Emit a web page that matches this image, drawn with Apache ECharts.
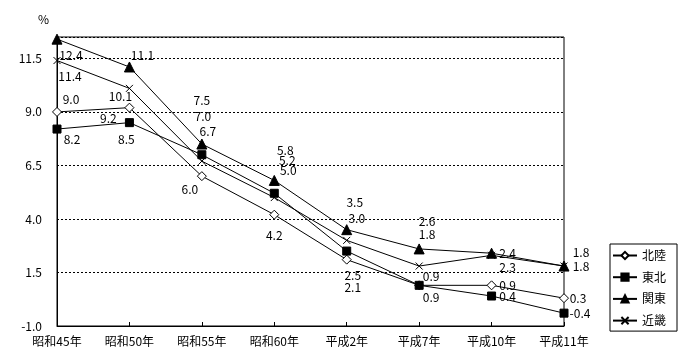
<!DOCTYPE html>
<html><head><meta charset="utf-8">
<script src="https://cdn.jsdelivr.net/npm/echarts@6/dist/echarts.min.js"></script>
<style>html,body{margin:0;padding:0;background:#fff}#c{width:700px;height:360px}</style>
</head><body><div id="c"></div>
<script>
var categories = ['昭和45年','昭和50年','昭和55年','昭和60年','平成2年','平成7年','平成10年','平成11年'];
var seriesNames = ['北陸','東北','関東','近畿'];
var hokuriku = [9.0, 9.2, 6.0, 4.2, 2.1, 0.9, 0.9, 0.3];
var tohoku   = [8.2, 8.5, 7.0, 5.2, 2.5, 0.9, 0.4, -0.4];
var kanto    = [12.4, 11.1, 7.5, 5.8, 3.5, 2.6, 2.4, 1.8];
var kinki    = [11.4, 10.1, 6.7, 5.0, 3.0, 1.8, 2.3, 1.8];
var yTicks = [-1.0, 1.5, 4.0, 6.5, 9.0, 11.5];

// label placement (layout only)
var labelOffsets = {
  '北陸': [[14,-12],[-21,11],[-12,13],[0,21],[6,28],[12,12],[16,0],[14,0]],
  '東北': [[15,10],[-3,17],[1,-38],[13,-33],[6,24],[12,-9],[16,0],[16,0]],
  '関東': [[14,16],[13,-12],[0,-44],[11,-30],[8,-27],[8,-27],[16,0],[17,0]],
  '近畿': [[13,16],[-9,8],[6,-30],[14,-27],[10,-22],[8,-32],[16,12],[17,-14]]
};
var FONT = '"Noto Sans CJK JP", sans-serif';
var crossPath = 'path://M0,0L10,10M10,0L0,10';
var styles = {
  '北陸': {symbol:'diamond', size:9, color:'#fff'},
  '東北': {symbol:'rect', size:8, color:'#000'},
  '関東': {symbol:'triangle', size:10, color:'#000'},
  '近畿': {symbol:crossPath, size:7, color:'#000'}
};
var values = {'北陸':hokuriku,'東北':tohoku,'関東':kanto,'近畿':kinki};

function mkSeries(name){
  var st = styles[name];
  return {
    name:name, type:'line', symbol:st.symbol, symbolSize:st.size, showAllSymbol:true,
    animation:false,
    lineStyle:{color:'#000', width:1},
    itemStyle:{color:st.color, borderColor:'#000', borderWidth:1},
    data: values[name].map(function(v,i){
      return {value:v, label:{show:true, position:'inside', offset:labelOffsets[name][i],
        formatter:function(p){return p.value.toFixed(1);},
        color:'#000', fontSize:12, fontFamily:FONT}};
    })
  };
}

var chart = echarts.init(document.getElementById('c'));
chart.setOption({
  animation:false,
  backgroundColor:'#fff',
  title:{text:'%', left:33, top:8, textStyle:{fontSize:12, fontWeight:'normal', color:'#000', fontFamily:FONT}},
  grid:{left:57, right:136, top:37, bottom:34, show:true, borderColor:'#000', borderWidth:1, backgroundColor:'transparent'},
  legend:{
    orient:'vertical', left:610, top:244, data:seriesNames,
    borderColor:'#000', borderWidth:1, padding:[5.5,11,4.5,2],
    itemWidth:24, itemHeight:9, itemGap:9.7,
    textStyle:{fontSize:12, color:'#000', fontFamily:FONT}
  },
  xAxis:{
    type:'category', data:categories, boundaryGap:false,
    axisLine:{onZero:false, lineStyle:{color:'#000', width:1}},
    axisTick:{inside:true, length:4, lineStyle:{color:'#000'}},
    axisLabel:{color:'#000', fontSize:12, fontFamily:FONT, margin:9}
  },
  yAxis:{
    type:'value', min:yTicks[0], max:12.5, interval:2.5,
    axisLine:{show:true, lineStyle:{color:'#000', width:1}},
    axisTick:{show:false},
    axisLabel:{color:'#000', fontSize:12, fontFamily:FONT, margin:15, showMaxLabel:false,
      formatter:function(v){return yTicks.indexOf(v)>=0 ? v.toFixed(1) : '';}},
    splitLine:{show:true, lineStyle:{color:'#000', width:1, type:[2,2]}}
  },
  series: seriesNames.map(mkSeries)
});
</script></body></html>
